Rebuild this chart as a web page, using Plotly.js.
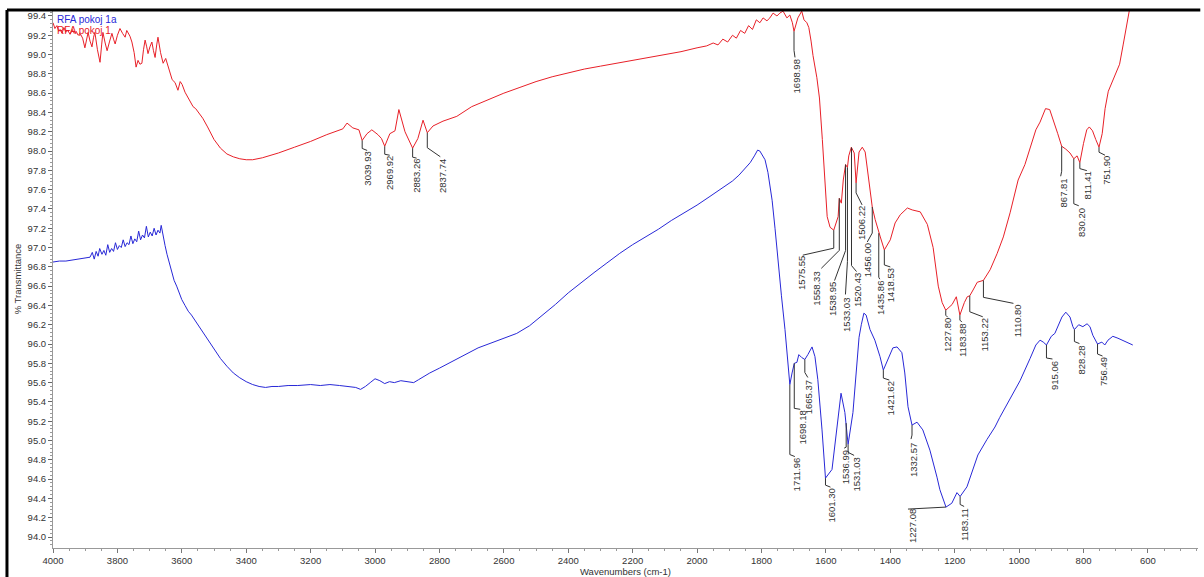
<!DOCTYPE html>
<html>
<head>
<meta charset="utf-8">
<script src="https://cdn.plot.ly/plotly-3.0.1.min.js"></script>
<style>html,body{margin:0;padding:0;background:#fff;}#chart{width:1204px;height:577px;}</style>
</head>
<body>
<div id="chart"></div>
<script>
// ---------- DATA ----------
const redName = "RFA pokoj 1";
const blueName = "RFA pokoj 1a";

const redWn = [4000,3994,3988,3982,3978,3972,3966,3960,3954,3947,3940,3934,3928,3922,3916,3908,3901,3896,3891,3885,3879,3874,3870,3862,3854,3849,3845,3838,3832,3824,3817,3812,3807,3800,3792,3784,3776,3771,3767,3761,3755,3748,3742,3736,3730,3724,3719,3714,3709,3705,3699,3693,3688,3683,3678,3674,3666,3658,3650,3643,3636,3630,3621,3616,3612,3605,3599,3590,3581,3573,3565,3557,3550,3535,3520,3500,3480,3460,3440,3420,3400,3380,3350,3300,3250,3200,3150,3100,3087,3069,3050,3039.93,3025,3010,2991,2980,2969.92,2954,2938,2926,2907,2891,2883.26,2867,2851,2837.74,2820,2789,2746,2700,2650,2600,2550,2500,2450,2400,2350,2300,2250,2200,2150,2100,2050,2000,1970,1950,1935,1920,1905,1890,1878,1865,1852,1840,1828,1816,1805,1795,1783,1774,1764,1752,1743,1733,1721,1712,1704,1698.98,1687,1675,1668,1659,1653,1646,1640,1628,1620,1611,1602,1596,1587,1575.55,1562,1558.33,1552,1546,1538.95,1533.03,1529,1521,1512,1506.22,1497,1487,1478,1469,1456,1447,1436,1431,1418.53,1400,1385,1369,1347,1332,1307,1285,1267,1251,1239,1227.8,1208,1195,1183.88,1170,1161,1153.22,1143,1130,1110.8,1090,1068,1049,1028,1012,1003,982,960,948,935,918,905,893,880,867.81,855,842,830.2,820,811.41,800,790,782,772,762,751.9,742,733,723,705,688,677,665,657,650];
const redT = [99.33,99.27,99.30,99.24,99.26,99.22,99.28,99.23,99.25,99.21,99.26,99.22,99.24,99.20,99.22,99.17,99.07,99.15,99.23,99.14,99.08,99.18,99.23,99.05,98.92,99.10,99.23,99.12,99.04,99.14,99.22,99.16,99.11,99.20,99.27,99.22,99.18,99.25,99.23,99.19,99.13,99.02,98.87,98.94,98.90,98.91,99.05,99.15,99.08,99.01,99.08,99.13,99.04,98.97,99.10,99.18,99.02,98.91,98.96,98.89,98.82,98.74,98.71,98.67,98.63,98.72,98.69,98.61,98.56,98.51,98.46,98.44,98.41,98.34,98.25,98.12,98.03,97.97,97.94,97.92,97.91,97.91,97.93,97.98,98.04,98.10,98.17,98.23,98.29,98.24,98.22,98.11,98.18,98.22,98.17,98.13,98.05,98.18,98.21,98.43,98.20,98.08,98.03,98.13,98.32,98.19,98.26,98.31,98.36,98.46,98.53,98.60,98.66,98.72,98.77,98.81,98.85,98.88,98.91,98.94,98.97,99.00,99.03,99.07,99.09,99.12,99.10,99.16,99.13,99.20,99.17,99.25,99.22,99.30,99.26,99.36,99.33,99.38,99.35,99.38,99.43,99.40,99.43,99.45,99.38,99.41,99.33,99.24,99.38,99.45,99.36,99.33,99.28,99.14,98.99,98.76,98.55,98.12,97.70,97.32,97.21,97.18,97.32,97.51,97.46,97.70,97.86,97.83,97.95,98.04,97.98,97.67,97.99,98.04,97.99,97.73,97.42,97.29,97.15,97.11,96.975,97.08,97.255,97.34,97.41,97.39,97.37,97.24,97.00,96.60,96.43,96.35,96.41,96.49,96.30,96.43,96.49,96.50,96.56,96.64,96.66,96.77,96.94,97.11,97.36,97.57,97.70,97.86,98.11,98.22,98.30,98.44,98.43,98.32,98.18,98.05,98.02,97.98,97.92,97.95,97.88,98.08,98.22,98.25,98.21,98.12,98.04,98.18,98.44,98.62,98.76,98.90,99.10,99.35,99.47,99.58];

const blueWn = [4000,3980,3960,3940,3920,3900,3885,3878,3872,3866,3860,3855,3848,3842,3836,3830,3824,3818,3812,3806,3800,3794,3788,3782,3776,3770,3764,3758,3752,3746,3740,3734,3728,3722,3716,3710,3704,3698,3692,3686,3680,3674,3668,3664,3658,3652,3646,3640,3632,3624,3616,3608,3600,3590,3580,3570,3560,3545,3530,3515,3500,3480,3460,3440,3420,3400,3380,3360,3340,3320,3300,3270,3240,3200,3170,3140,3110,3080,3060,3045,3030,3015,3000,2985,2970,2955,2940,2920,2900,2880,2865,2850,2830,2800,2760,2720,2680,2640,2600,2560,2520,2480,2440,2400,2360,2320,2280,2240,2200,2160,2120,2080,2040,2000,1960,1920,1890,1870,1850,1835,1822,1812,1805,1795,1789,1780,1767,1758,1749,1738,1727,1718,1711.96,1705,1698.18,1690,1684,1675,1665.37,1656,1643,1634,1625,1612,1601.3,1581,1566,1553,1541,1536.99,1531.03,1516,1504,1497,1490,1482,1475,1463,1448,1432,1421.62,1407,1392,1379,1364,1355,1345,1332.57,1317,1299,1277,1255,1246,1227.08,1209,1193,1183.11,1162,1147,1128,1100,1075,1060,1029,997,966,948,935,925,915.06,900,889,867,855,842,833,828.28,815,802,789,780,771,756.49,743,734,724,709,693,671,647];
const blueT = [96.85,96.86,96.86,96.87,96.88,96.89,96.90,96.95,96.88,96.96,96.91,96.99,96.93,96.97,96.92,97.03,96.95,96.99,96.96,97.05,96.98,97.02,97.00,97.08,97.01,97.05,97.03,97.12,97.04,97.09,97.06,97.17,97.08,97.13,97.10,97.22,97.11,97.16,97.12,97.20,97.13,97.18,97.15,97.23,97.10,97.02,96.93,96.86,96.74,96.66,96.60,96.52,96.46,96.40,96.34,96.30,96.25,96.18,96.10,96.02,95.95,95.85,95.77,95.70,95.65,95.61,95.58,95.56,95.55,95.56,95.56,95.57,95.57,95.58,95.57,95.58,95.57,95.56,95.55,95.53,95.56,95.60,95.64,95.62,95.59,95.61,95.60,95.62,95.61,95.60,95.63,95.66,95.70,95.75,95.82,95.89,95.96,96.01,96.06,96.11,96.19,96.30,96.41,96.53,96.64,96.74,96.84,96.94,97.03,97.11,97.19,97.28,97.36,97.44,97.53,97.62,97.69,97.75,97.82,97.88,97.95,98.01,98.00,97.95,97.91,97.78,97.49,97.20,96.87,96.50,96.15,95.80,95.58,95.70,95.80,95.81,95.89,95.86,95.84,95.89,95.97,95.87,95.63,95.11,94.61,94.70,95.11,95.49,95.29,95.18,94.96,95.29,95.73,96.07,96.20,96.32,96.30,96.15,96.04,95.87,95.73,95.84,95.96,95.97,95.91,95.70,95.35,95.16,95.19,95.11,94.90,94.62,94.49,94.31,94.35,94.46,94.42,94.52,94.66,94.85,95.01,95.14,95.24,95.42,95.62,95.85,95.99,96.04,96.02,95.99,96.08,96.11,96.28,96.33,96.28,96.18,96.15,96.20,96.18,96.21,96.18,96.09,96.00,96.02,95.99,96.04,96.08,96.06,96.03,95.99];

const redPeaks = [3039.93,2969.92,2883.26,2837.74,1698.98,1575.55,1558.33,1538.95,1533.03,1520.43,1506.22,1456.00,1435.86,1418.53,1227.80,1183.88,1153.22,1110.80,867.81,830.20,811.41,751.90];
const bluePeaks = [1711.96,1698.18,1665.37,1601.30,1536.99,1531.03,1421.62,1332.57,1227.08,1183.11,915.06,828.28,756.49];

const xTickVals = [4000,3800,3600,3400,3200,3000,2800,2600,2400,2200,2000,1800,1600,1400,1200,1000,800,600];

// ---------- LABEL LAYOUT (pixel offsets: knee, leaderEndX, leaderEndY, textX, textTop) ----------
const redOffsets = [[8,5,10,5,10],[8,5,9,5,9],[9,4,10,4,10],[15,13,24,15,25],[19,1,26,2,27],
  [18,-31,25,-33,25],[52,-18,70,-23,72],[86,-11,116,-13,117],[94,-2,127,-1,129],[118,5,124,6,125],
  [10,6,22,6,22],[26,-5,35,-5,35],[44,1,46,1,47],[15,6,17,7,17],[5,2,7,2,7],[5,2,7,2,7],
  [16,13,21,15,21],[17,30,23,34,23],[25,-1,30,2,31],[45,5,47,7,48],[6,7,8,8,8],[5,6,8,8,8]];
const blueOffsets = [[70,5,72,7,72],[45,6,46,8,46],[13,3,18,4,20],[7,5,9,6,9],[24,-2,25,-1,26],
  [8,6,11,8,12],[8,6,10,7,10],[10,-1,14,1,17],[0,-38,2,-34,1],[8,4,10,5,11],[13,6,14,8,15],
  [12,5,14,7,15],[10,5,12,6,12]];

const RED = 'rgb(232,32,40)';
const BLUE = 'rgb(40,40,215)';
const FONT = 'Liberation Sans Narrow, Arial Narrow, Arial, sans-serif';

function interp(wns, ts, w) {
  for (let i = 0; i < wns.length - 1; i++) {
    const a = wns[i], b = wns[i+1];
    if ((w <= a && w >= b)) {
      const f = (a === b) ? 0 : (a - w) / (a - b);
      return ts[i] + f * (ts[i+1] - ts[i]);
    }
  }
  return ts[ts.length-1];
}

const shapes = [];
const annotations = [];
function addLabels(peaks, offs, wns, ts) {
  peaks.forEach((p, i) => {
    const t = interp(wns, ts, p);
    const o = offs[i];
    shapes.push({
      type: 'path', xref: 'x', yref: 'y', xsizemode: 'pixel', ysizemode: 'pixel',
      xanchor: p, yanchor: t,
      path: `M0,0 L0,${-o[0]} L${o[1]},${-o[2]}`,
      line: {color: '#333', width: 1}
    });
    annotations.push({
      x: p, y: t, xref: 'x', yref: 'y', text: p.toFixed(2), showarrow: false,
      textangle: -90, xanchor: 'center', yanchor: 'top', borderpad: 0,
      xshift: o[3], yshift: -o[4],
      font: {family: FONT, size: 9.5, color: '#333'}
    });
  });
}
addLabels(redPeaks, redOffsets, redWn, redT);
addLabels(bluePeaks, blueOffsets, blueWn, blueT);

// series names in the top-left corner
annotations.push({xref:'paper', yref:'paper', x:0.002, y:1.0, xanchor:'left', yanchor:'top', yshift:-2,
  text: blueName, showarrow:false, font:{family: FONT, size: 10, color: BLUE}});
annotations.push({xref:'paper', yref:'paper', x:0.002, y:1.0, xanchor:'left', yanchor:'top', yshift:-13,
  text: redName, showarrow:false, font:{family: FONT, size: 10, color: RED}});

// outer frame (thick black top and left borders)
shapes.push({type:'line', xref:'paper', yref:'paper', x0:-0.0402, x1:1.002, y0:1.0, y1:1.0, line:{color:'#000', width:3}});
shapes.push({type:'line', xref:'paper', yref:'paper', x0:-0.0402, x1:-0.0402, y0:1.0, y1:-0.07, line:{color:'#000', width:3}});

const traces = [
  {x: redWn, y: redT, type: 'scatter', mode: 'lines', name: redName, line: {color: RED, width: 1}},
  {x: blueWn, y: blueT, type: 'scatter', mode: 'lines', name: blueName, line: {color: BLUE, width: 1}}
];

const layout = {
  width: 1204, height: 577,
  margin: {l: 53, r: 6, t: 10, b: 29},
  paper_bgcolor: '#fff', plot_bgcolor: '#fff',
  showlegend: false,
  font: {family: FONT, color: '#333', size: 9.5},
  xaxis: {
    range: [4000, 444.5], tickvals: xTickVals, ticktext: xTickVals.map(String),
    showgrid: false, zeroline: false, showline: true, linecolor: '#999', linewidth: 1,
    ticks: 'outside', ticklen: 4, tickcolor: '#777',
    minor: {dtick: 50, ticks: 'outside', ticklen: 2, tickcolor: '#999', showgrid: false},
    tickfont: {family: FONT, size: 9.5, color: '#333'},
    title: {text: 'Wavenumbers (cm-1)', font: {family: FONT, size: 9.5, color: '#333'}, standoff: 2}
  },
  yaxis: {
    range: [93.886, 99.462], dtick: 0.2, tick0: 94, tickformat: '.1f',
    showgrid: false, zeroline: false, showline: true, linecolor: '#999', linewidth: 1,
    ticks: 'outside', ticklen: 4, tickcolor: '#666',
    minor: {dtick: 0.04, ticks: 'outside', ticklen: 2, tickcolor: '#999', showgrid: false},
    tickfont: {family: FONT, size: 9.5, color: '#333'},
    title: {text: '% Transmittance', font: {family: FONT, size: 9.5, color: '#333'}, standoff: 4}
  },
  shapes: shapes,
  annotations: annotations
};

Plotly.newPlot('chart', traces, layout, {displayModeBar: false, staticPlot: true});
</script>
</body>
</html>
